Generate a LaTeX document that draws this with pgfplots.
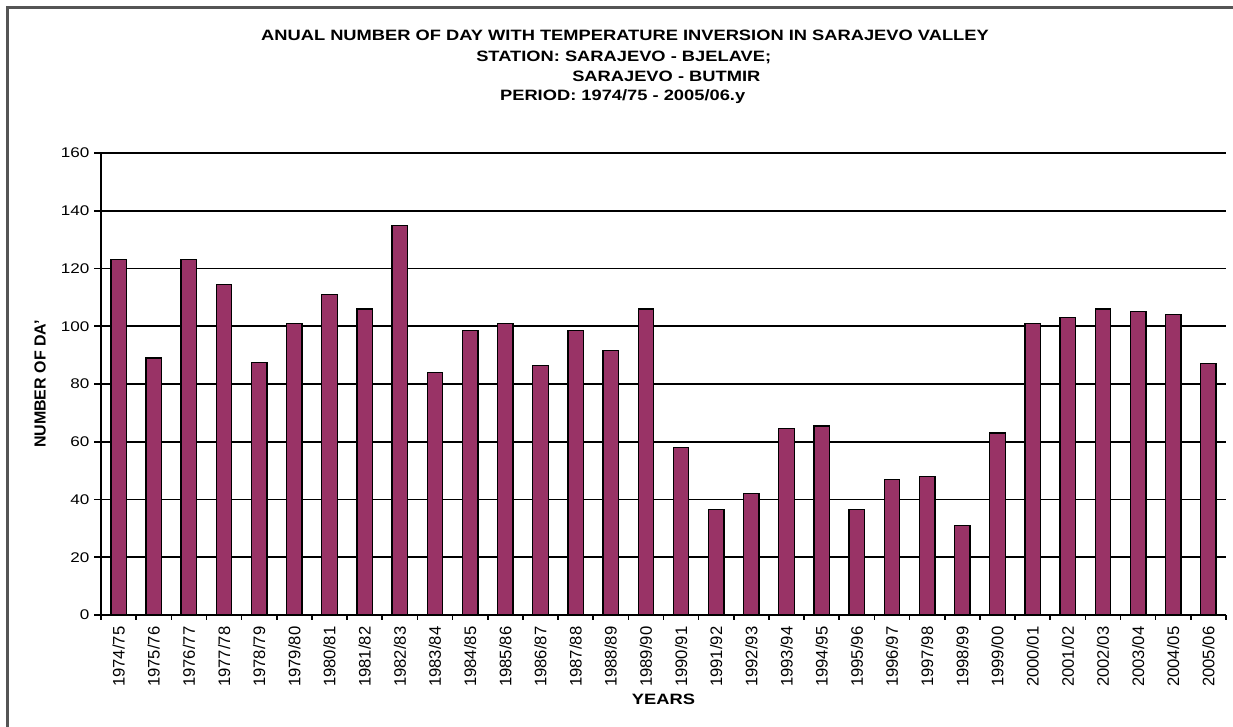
\documentclass[border=0pt]{standalone}
\usepackage{fontspec}
\setmainfont{Liberation Sans}
\newfontfamily\widefont{Liberation Sans}[FakeStretch=1.22]
\usepackage{pgfplots}
\pgfplotsset{compat=1.18}
\definecolor{barplum}{RGB}{153,51,102}
\definecolor{framegray}{RGB}{85,85,85}
\begin{document}
\begin{tikzpicture}
\useasboundingbox (0pt,0pt) rectangle (924.75pt,545.25pt);
\draw[framegray, line width=1.6pt] (5.6pt,-5pt) -- (5.6pt,539.6pt) -- (935pt,539.6pt);
\node[anchor=base, inner sep=0, font=\widefont\bfseries\fontsize{11.25}{13}\selectfont] at (468.75pt,514.9pt) {ANUAL NUMBER OF DAY WITH TEMPERATURE INVERSION IN SARAJEVO VALLEY};
\node[anchor=base west, inner sep=0, font=\widefont\bfseries\fontsize{11.25}{13}\selectfont] at (357pt,499.3pt) {STATION: SARAJEVO - BJELAVE;};
\node[anchor=base west, inner sep=0, font=\widefont\bfseries\fontsize{11.25}{13}\selectfont] at (429pt,483.75pt) {SARAJEVO - BUTMIR};
\node[anchor=base, inner sep=0, font=\widefont\bfseries\fontsize{11.25}{13}\selectfont] at (467pt,469.5pt) {PERIOD: 1974/75 - 2005/06.y};
\begin{axis}[
  at={(75.75pt,84pt)}, anchor=south west,
  scale only axis, width=843.75pt, height=346.5pt,
  ybar, bar width=0.44,
  xmin=-0.5, xmax=31.5, ymin=0, ymax=160,
  axis x line*=bottom, axis y line*=left,
  axis line style={black, line width=1.3pt},
  ymajorgrids, grid style={black, line width=1.3pt},
  ytick={0,20,...,160},
  xtick={0,...,31},
  xticklabels={1974/75,1975/76,1976/77,1977/78,1978/79,1979/80,1980/81,1981/82,1982/83,1983/84,1984/85,1985/86,1986/87,1987/88,1988/89,1989/90,1990/91,1991/92,1992/93,1993/94,1994/95,1995/96,1996/97,1997/98,1998/99,1999/00,2000/01,2001/02,2002/03,2003/04,2004/05,2005/06},
  minor xtick={-0.5,0.5,...,31.5},
  major x tick style={draw=none},
  minor x tick style={black, line width=1.2pt},
  major y tick style={black, line width=1.2pt},
  major tick length=5.25pt, minor tick length=3.75pt,
  tick align=outside, tick pos=left,
  /pgf/number format/assume math mode=true,
  yticklabel style={font=\widefont\fontsize{10.5}{12}\selectfont},
  xticklabel style={font=\fontsize{12.5}{14}\selectfont, rotate=90, anchor=east},
  xlabel={YEARS},
  xlabel style={at={(rel axis cs:0.5,0)}, anchor=base, yshift=-67.5pt, font=\widefont\bfseries\fontsize{11.25}{13}\selectfont},
  ylabel={NUMBER OF DA'},
  ylabel style={at={(rel axis cs:0,0.5)}, anchor=center, yshift=45.75pt, font=\bfseries\fontsize{12}{14}\selectfont},
]
\addplot[fill=barplum, draw=black, line width=1pt] coordinates {
(0,123) (1,89) (2,123) (3,114.5) (4,87.5) (5,101) (6,111) (7,106)
(8,135) (9,84) (10,98.5) (11,101) (12,86.5) (13,98.5) (14,91.5) (15,106)
(16,58) (17,36.5) (18,42) (19,64.5) (20,65.5) (21,36.5) (22,47) (23,48)
(24,31) (25,63) (26,101) (27,103) (28,106) (29,105) (30,104) (31,87)
};
\end{axis}
\end{tikzpicture}
\end{document}
